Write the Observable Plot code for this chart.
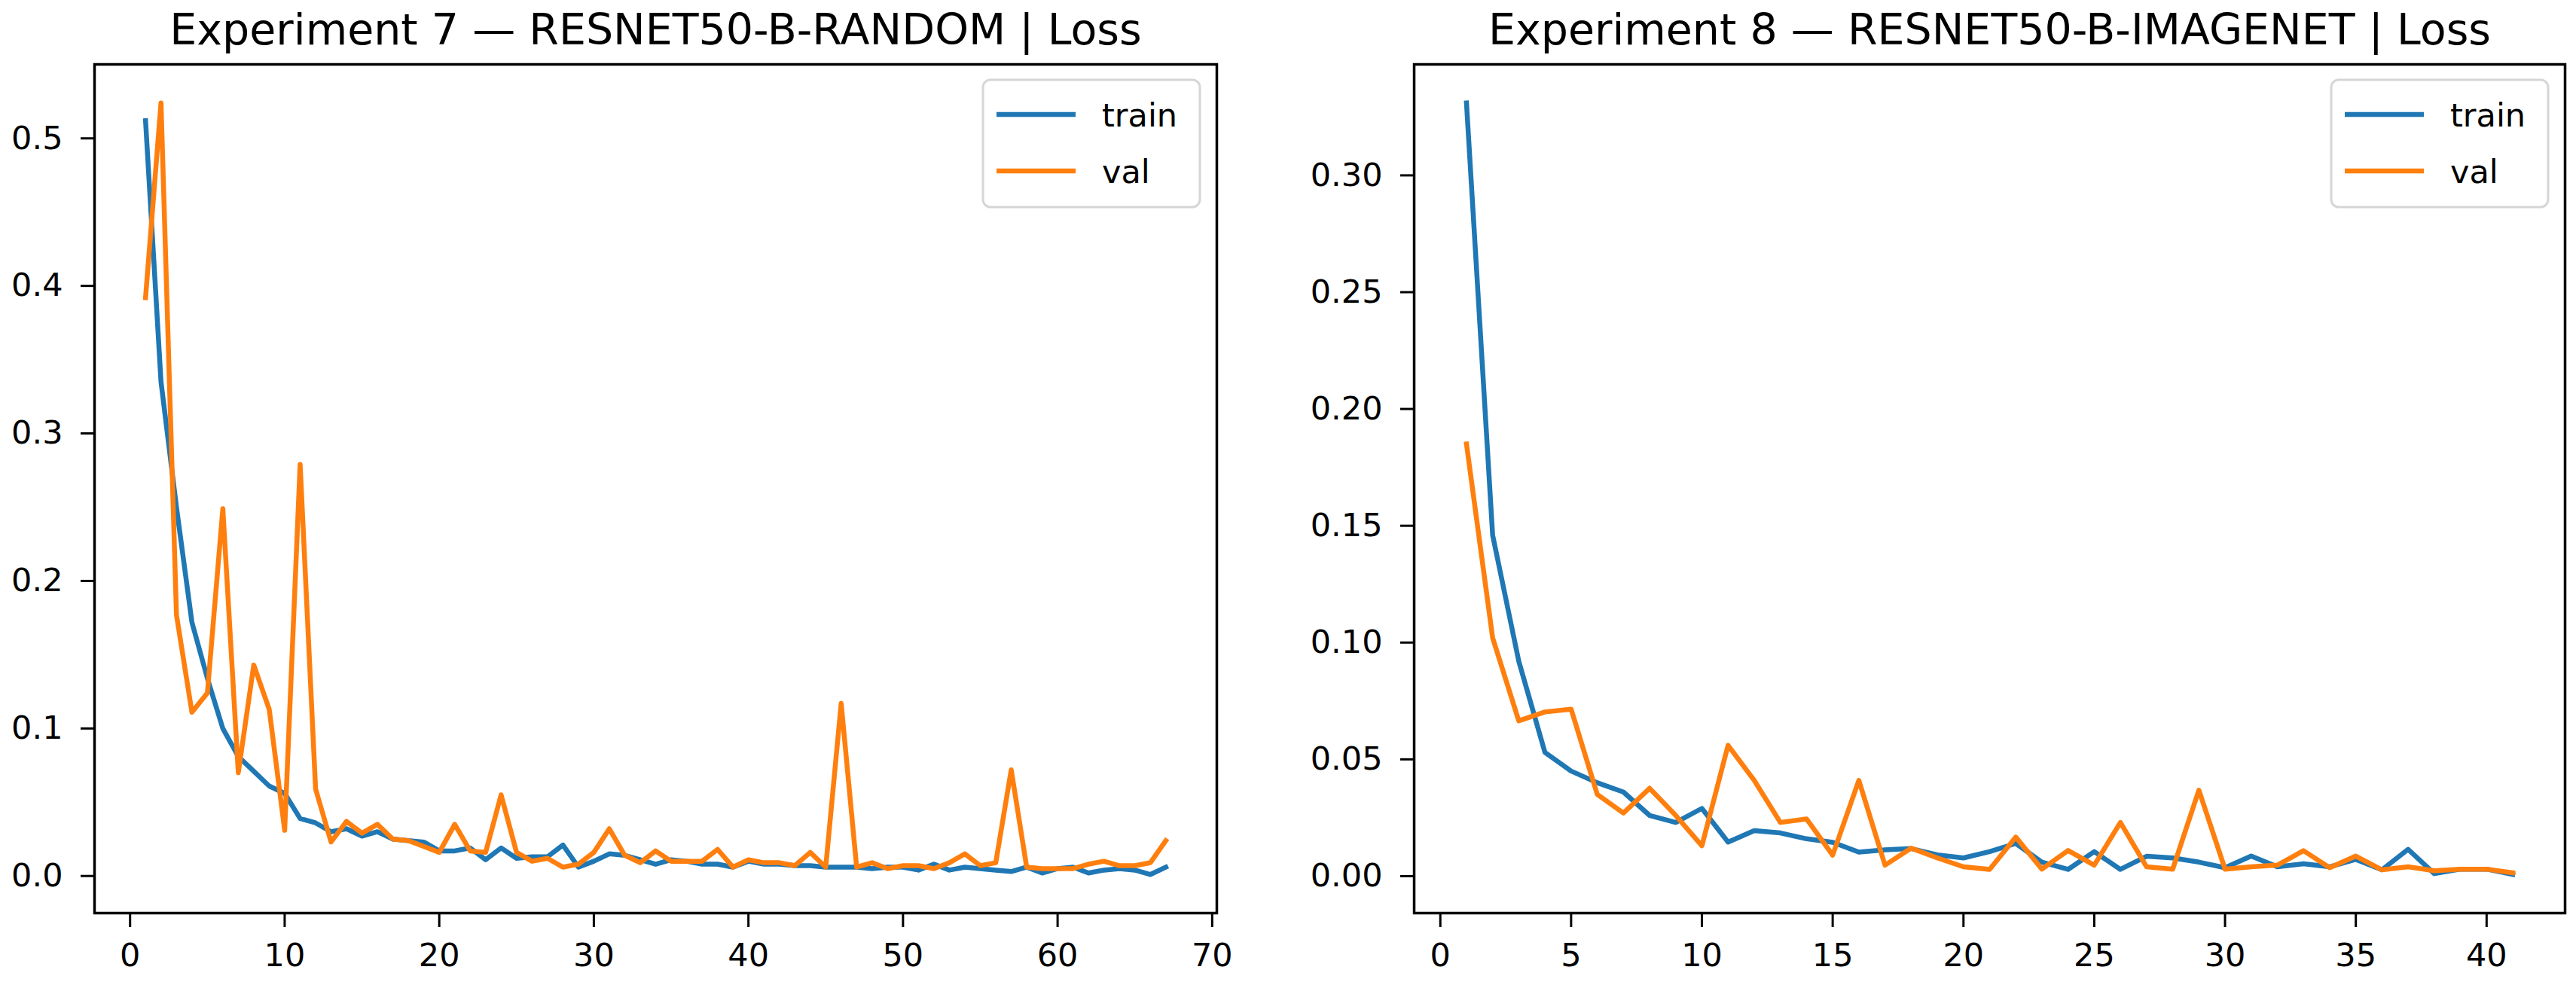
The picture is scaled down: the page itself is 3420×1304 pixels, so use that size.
<!DOCTYPE html>
<html>
<head>
<meta charset="utf-8">
<script src="https://cdn.jsdelivr.net/npm/d3@7"></script>
<script src="https://cdn.jsdelivr.net/npm/@observablehq/plot@0.6"></script>
<style>
  html, body { margin: 0; padding: 0; background: #ffffff; }
  #root { position: relative; width: 3420px; height: 1304px; background: #ffffff; font-family: "DejaVu Sans", sans-serif; }
  .panel { position: absolute; top: 0; }
  .legend { position: absolute; }
</style>
</head>
<body>
<div id="root"></div>
<script>
// ---------------- data ----------------
const seriesNames = ["train", "val"];
const seriesColors = ["#1f77b4", "#ff7f0e"];

const exp7Title = "Experiment 7 \u2014 RESNET50-B-RANDOM | Loss";
const exp7Train = [0.512, 0.335, 0.250, 0.172, 0.134, 0.100, 0.081, 0.071, 0.061, 0.056,
  0.039, 0.036, 0.030, 0.032, 0.027, 0.030, 0.025, 0.024, 0.023, 0.017,
  0.017, 0.019, 0.011, 0.019, 0.012, 0.013, 0.013, 0.021, 0.006, 0.010,
  0.015, 0.014, 0.011, 0.008, 0.011, 0.010, 0.008, 0.008, 0.006, 0.010,
  0.008, 0.008, 0.007, 0.007, 0.006, 0.006, 0.006, 0.005, 0.006, 0.006,
  0.004, 0.008, 0.004, 0.006, 0.005, 0.004, 0.003, 0.006, 0.002, 0.005,
  0.006, 0.002, 0.004, 0.005, 0.004, 0.001, 0.006];
const exp7Val = [0.392, 0.524, 0.177, 0.111, 0.124, 0.249, 0.070, 0.143, 0.113, 0.031,
  0.279, 0.059, 0.023, 0.037, 0.029, 0.035, 0.025, 0.024, 0.020, 0.016,
  0.035, 0.017, 0.016, 0.055, 0.016, 0.010, 0.012, 0.006, 0.008, 0.016,
  0.032, 0.014, 0.009, 0.017, 0.010, 0.010, 0.010, 0.018, 0.006, 0.011,
  0.009, 0.009, 0.007, 0.016, 0.006, 0.117, 0.006, 0.009, 0.005, 0.007,
  0.007, 0.005, 0.009, 0.015, 0.007, 0.009, 0.072, 0.006, 0.005, 0.005,
  0.005, 0.008, 0.010, 0.007, 0.007, 0.009, 0.024];
const exp7XTicks = [0, 10, 20, 30, 40, 50, 60, 70];
const exp7YTicks = [0.0, 0.1, 0.2, 0.3, 0.4, 0.5];

const exp8Title = "Experiment 8 \u2014 RESNET50-B-IMAGENET | Loss";
const exp8Train = [0.331, 0.146, 0.092, 0.053, 0.045, 0.040, 0.036, 0.026, 0.023, 0.029,
  0.0146, 0.0195, 0.0185, 0.016, 0.0145, 0.0103, 0.0113, 0.0118, 0.0091, 0.0078,
  0.0105, 0.0140, 0.0060, 0.0029, 0.0105, 0.0029, 0.0085, 0.0078, 0.0060, 0.0036,
  0.0086, 0.0040, 0.0053, 0.0040, 0.0072, 0.0027, 0.0115, 0.0011, 0.0030, 0.0030,
  0.0007];
const exp8Val = [0.185, 0.102, 0.0665, 0.0703, 0.0715, 0.035, 0.027, 0.0376, 0.026, 0.013,
  0.056, 0.041, 0.023, 0.0245, 0.009, 0.041, 0.0047, 0.012, 0.0078, 0.0040,
  0.0029, 0.0167, 0.0030, 0.0110, 0.0047, 0.023, 0.0040, 0.0030, 0.0368, 0.0030,
  0.0040, 0.0047, 0.0109, 0.0036, 0.0086, 0.0027, 0.0040, 0.0023, 0.0030, 0.0030,
  0.0014];
const exp8XTicks = [0, 5, 10, 15, 20, 25, 30, 35, 40];
const exp8YTicks = [0.00, 0.05, 0.10, 0.15, 0.20, 0.25, 0.30];

// ---------------- drawing ----------------
const FONT = "DejaVu Sans";

function panel({train, val, xTicks, yTicks, yFormat, title, width, marginLeft, marginRight}) {
  const rows = [
    ...train.map((v, i) => ({epoch: i + 1, loss: v, series: seriesNames[0]})),
    ...val.map((v, i) => ({epoch: i + 1, loss: v, series: seriesNames[1]}))
  ];
  const ex = d3.extent(rows, d => d.epoch);
  const ey = d3.extent(rows, d => d.loss);
  const px = (ex[1] - ex[0]) * 0.05;
  const py = (ey[1] - ey[0]) * 0.05;
  return Plot.plot({
    width,
    height: 1304,
    marginLeft,
    marginRight,
    marginTop: 85,
    marginBottom: 92,
    style: {fontFamily: FONT, color: "black", background: "transparent", overflow: "visible"},
    x: {domain: [ex[0] - px, ex[1] + px]},
    y: {domain: [ey[0] - py, ey[1] + py]},
    color: {domain: seriesNames, range: seriesColors},
    marks: [
      Plot.lineY(rows, {x: "epoch", y: "loss", stroke: "series", z: "series",
        strokeWidth: 6.5, strokeLinejoin: "round", strokeLinecap: "square"}),
      Plot.frame({stroke: "black", strokeWidth: 3.5}),
      Plot.axisX({ticks: xTicks, tickFormat: d => String(d), tickSize: 19, tickPadding: 21,
        fontSize: 43, strokeWidth: 3, label: null}),
      Plot.axisY({ticks: yTicks, tickFormat: yFormat, tickSize: 18, tickPadding: 24,
        fontSize: 43, strokeWidth: 3, label: null}),
      Plot.text([title], {text: d => d, frameAnchor: "top", dy: -27, lineAnchor: "bottom",
        fontSize: 57, fill: "black"})
    ]
  });
}

function legend(left, top) {
  const w = 288, h = 169;
  const svg = d3.create("svg")
    .attr("class", "legend")
    .attr("width", w + 4).attr("height", h + 4)
    .style("left", (left - 2) + "px").style("top", (top - 2) + "px")
    .style("font-family", FONT);
  svg.append("rect")
    .attr("x", 2).attr("y", 2).attr("width", w).attr("height", h)
    .attr("rx", 10).attr("ry", 10)
    .attr("fill", "rgba(255,255,255,0.8)")
    .attr("stroke", "#d6d6d6").attr("stroke-width", 3);
  seriesNames.forEach((name, i) => {
    const cy = 2 + 46 + i * 75;
    svg.append("line")
      .attr("x1", 2 + 18).attr("x2", 2 + 123).attr("y1", cy).attr("y2", cy)
      .attr("stroke", seriesColors[i]).attr("stroke-width", 6.5);
    svg.append("text")
      .attr("x", 2 + 158).attr("y", cy + 16)
      .attr("font-size", 43).attr("fill", "black")
      .text(name);
  });
  return svg.node();
}

const root = document.getElementById("root");

const p1 = panel({train: exp7Train, val: exp7Val, xTicks: exp7XTicks, yTicks: exp7YTicks,
  yFormat: d3.format(".1f"), title: exp7Title, width: 1710, marginLeft: 125, marginRight: 95});
const d1 = document.createElement("div");
d1.className = "panel"; d1.style.left = "0px";
d1.appendChild(p1);
root.appendChild(d1);

const p2 = panel({train: exp8Train, val: exp8Val, xTicks: exp8XTicks, yTicks: exp8YTicks,
  yFormat: d3.format(".2f"), title: exp8Title, width: 1710, marginLeft: 167, marginRight: 15});
const d2 = document.createElement("div");
d2.className = "panel"; d2.style.left = "1710px";
d2.appendChild(p2);
root.appendChild(d2);

root.appendChild(legend(1305, 106));
root.appendChild(legend(3095, 106));
</script>
</body>
</html>
